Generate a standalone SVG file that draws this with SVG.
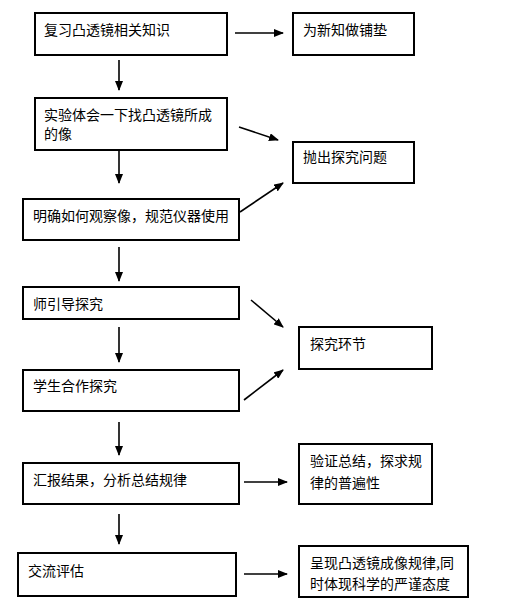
<svg xmlns="http://www.w3.org/2000/svg" width="522" height="604" viewBox="0 0 522 604">
<defs>
<marker id="ah" markerWidth="10" markerHeight="8" refX="9" refY="4" orient="auto" markerUnits="userSpaceOnUse">
<path d="M0,0 L10,4 L0,8 Z" fill="#000"/>
</marker>
<style>
.box{fill:#fff;stroke:#000;stroke-width:2}
.t{font-family:"Noto Sans CJK SC","Noto Sans CJK JP",sans-serif;font-size:14px;fill:#000}
.c{stroke:#000;stroke-width:1.6;fill:none;marker-end:url(#ah)}
</style>
</defs>
<rect width="522" height="604" fill="#fff"/>
<g id="connectors">
<line class="c" x1="235" y1="33" x2="283" y2="33"/>
<line class="c" x1="119" y1="60" x2="119" y2="90"/>
<line class="c" x1="239" y1="127" x2="278" y2="140"/>
<line class="c" x1="119" y1="147" x2="119" y2="183"/>
<line class="c" x1="240" y1="212" x2="283" y2="183"/>
<line class="c" x1="119" y1="247" x2="119" y2="281"/>
<line class="c" x1="251" y1="300" x2="283" y2="327"/>
<line class="c" x1="119" y1="327" x2="119" y2="362"/>
<line class="c" x1="244" y1="400" x2="283" y2="370"/>
<line class="c" x1="119" y1="422" x2="119" y2="455"/>
<line class="c" x1="244" y1="482" x2="287" y2="482"/>
<line class="c" x1="119" y1="514" x2="119" y2="544"/>
<line class="c" x1="244" y1="574" x2="287" y2="574"/>
</g>
<g id="n1"><rect class="box" x="35" y="13" width="192" height="42"/><text class="t" x="44" y="35">复习凸透镜相关知识</text></g>
<g id="n2"><rect class="box" x="293" y="13" width="121" height="42"/><text class="t" x="303" y="35">为新知做铺垫</text></g>
<g id="n3"><rect class="box" x="35" y="98" width="192" height="52"/><text class="t" x="44" y="120">实验体会一下找凸透镜所成</text><text class="t" x="44" y="139">的像</text></g>
<g id="n4"><rect class="box" x="293" y="142" width="121" height="41"/><text class="t" x="303" y="162">抛出探究问题</text></g>
<g id="n5"><rect class="box" x="23" y="199" width="216" height="41"/><text class="t" x="33" y="221">明确如何观察像，规范仪器使用</text></g>
<g id="n6"><rect class="box" x="23" y="287" width="216" height="32"/><text class="t" x="33" y="309">师引导探究</text></g>
<g id="n7"><rect class="box" x="299" y="327" width="133" height="42"/><text class="t" x="310" y="349">探究环节</text></g>
<g id="n8"><rect class="box" x="23" y="370" width="216" height="41"/><text class="t" x="33" y="391">学生合作探究</text></g>
<g id="n9"><rect class="box" x="23" y="463" width="216" height="41"/><text class="t" x="33" y="485">汇报结果，分析总结规律</text></g>
<g id="n10"><rect class="box" x="299" y="444" width="133" height="60"/><text class="t" x="310" y="466">验证总结，探求规</text><text class="t" x="310" y="488">律的普遍性</text></g>
<g id="n11"><rect class="box" x="18" y="553" width="218" height="43"/><text class="t" x="28" y="576">交流评估</text></g>
<g id="n12"><rect class="box" x="299" y="546" width="169" height="51"/><text class="t" x="310" y="568">呈现凸透镜成像规律,同</text><text class="t" x="310" y="589">时体现科学的严谨态度</text></g>
</svg>
